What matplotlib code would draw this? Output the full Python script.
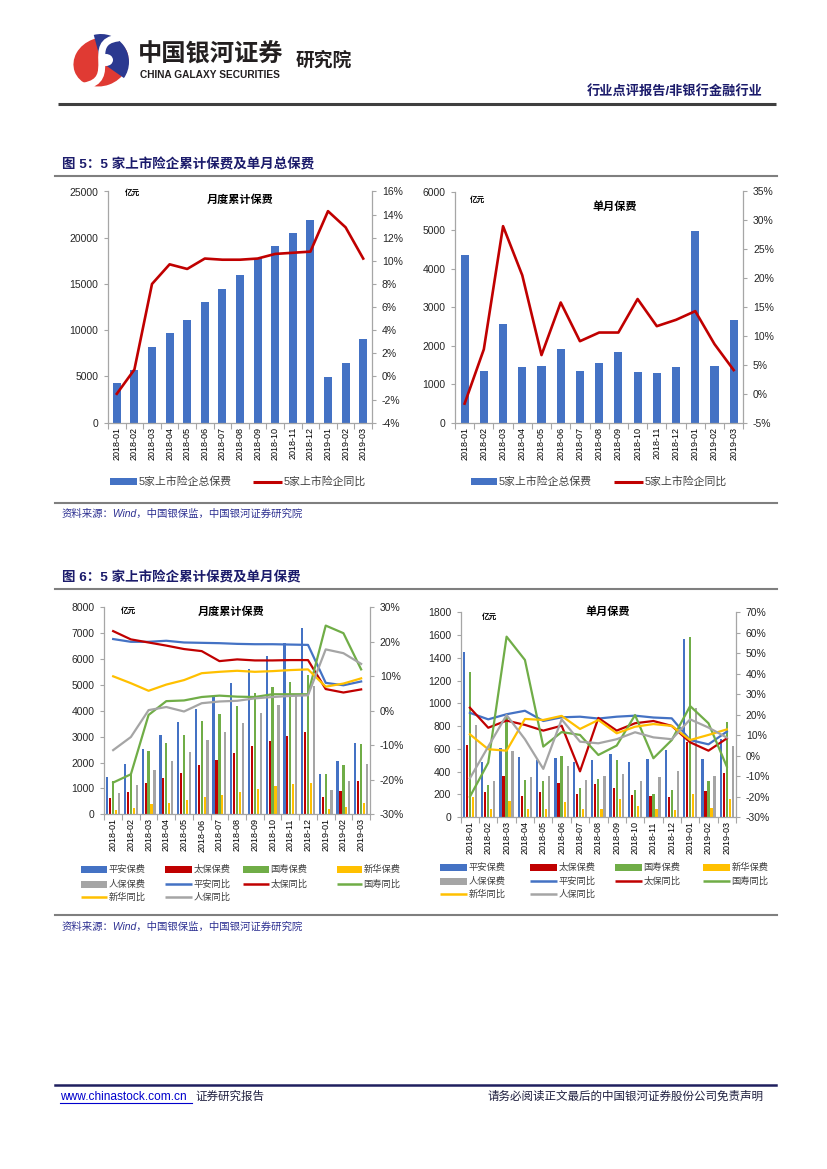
import matplotlib
matplotlib.use('Agg')
import matplotlib.pyplot as plt
import numpy as np
from matplotlib.patches import Rectangle, Wedge, Ellipse, PathPatch
from matplotlib.path import Path
from matplotlib.ticker import FuncFormatter

plt.rcParams['font.family'] = ['Liberation Sans', 'Noto Sans CJK SC', 'DejaVu Sans']

# ---------------- data ----------------
months = ['2018-01', '2018-02', '2018-03', '2018-04', '2018-05', '2018-06', '2018-07', '2018-08',
          '2018-09', '2018-10', '2018-11', '2018-12', '2019-01', '2019-02', '2019-03']

# Fig 5 left: cumulative total premiums (亿元) and yoy (%)
cum_total = [4260, 5660, 8220, 9670, 11110, 13060, 14430, 15980, 17780, 19120, 20490, 21900, 4910, 6420, 9060]
cum_total_yoy = [-1.5, 0.6, 8.0, 9.7, 9.3, 10.2, 10.1, 10.1, 10.2, 10.6, 10.7, 10.8, 14.3, 12.9, 10.2]

# Fig 5 right: single-month total premiums and yoy
mon_total = [4340, 1350, 2560, 1450, 1460, 1910, 1330, 1550, 1830, 1320, 1290, 1450, 4970, 1460, 2670]
mon_total_yoy = [-1.7, 7.7, 29.0, 20.5, 6.7, 15.8, 9.1, 10.6, 10.6, 16.4, 11.7, 12.8, 14.3, 8.6, 4.1]

companies = ['平安', '太保', '国寿', '新华', '人保']
colors = ['#4472C4', '#C00000', '#70AD47', '#FFC000', '#A5A5A5']

# Fig 6 left: cumulative premiums by company
cum_pa = [1450, 1930, 2525, 3050, 3560, 4070, 4575, 5065, 5620, 6110, 6620, 7200, 1560, 2060, 2745]
cum_tb = [630, 860, 1200, 1390, 1600, 1900, 2100, 2385, 2630, 2820, 3030, 3180, 660, 890, 1275]
cum_gs = [1270, 1550, 2430, 2760, 3070, 3610, 3860, 4200, 4690, 4920, 5130, 5370, 1570, 1890, 2720]
cum_xh = [170, 250, 380, 450, 540, 660, 740, 850, 980, 1080, 1160, 1220, 190, 270, 440]
cum_rb = [810, 1120, 1700, 2050, 2410, 2860, 3170, 3520, 3900, 4220, 4610, 4960, 940, 1290, 1940]
cum_pa_yoy = [20.8, 20.0, 20.0, 20.3, 19.8, 19.7, 19.6, 19.4, 19.3, 19.3, 19.2, 19.1, 8.1, 7.4, 8.5]
cum_tb_yoy = [23.1, 20.7, 19.8, 18.9, 17.9, 17.3, 14.4, 14.9, 14.6, 14.6, 14.7, 14.7, 6.3, 5.3, 6.2]
cum_gs_yoy = [-20.8, -18.4, -1.2, 2.8, 3.0, 4.0, 4.4, 4.1, 4.0, 4.8, 4.8, 4.8, 24.7, 22.5, 12.0]
cum_xh_yoy = [10.0, 8.0, 5.8, 7.6, 8.9, 10.9, 11.3, 11.6, 11.3, 11.5, 11.8, 12.0, 7.0, 7.9, 9.4]
cum_rb_yoy = [-11.4, -7.6, 0.2, 1.1, -0.2, 2.2, 2.7, 2.9, 3.6, 4.0, 4.3, 4.5, 17.8, 16.7, 13.6]

# Fig 6 right: single-month premiums by company
mon_pa = [1450, 481, 604, 531, 499, 519, 487, 499, 554, 487, 507, 589, 1569, 507, 685]
mon_tb = [633, 220, 358, 185, 220, 302, 199, 287, 252, 196, 185, 173, 663, 229, 387]
mon_gs = [1273, 279, 880, 325, 314, 534, 252, 337, 498, 238, 205, 240, 1581, 317, 833]
mon_xh = [179, 67, 141, 73, 73, 132, 70, 73, 155, 94, 70, 62, 199, 76, 155]
mon_rb = [809, 317, 578, 349, 361, 452, 325, 361, 381, 314, 349, 402, 956, 358, 628]
mon_pa_yoy = [20.9, 17.7, 20.2, 21.9, 16.9, 18.7, 19.0, 18.1, 19.0, 19.5, 18.6, 18.2, 7.6, 5.5, 11.7]
mon_tb_yoy = [23.4, 13.6, 17.1, 15.0, 12.2, 14.6, -7.7, 18.4, 12.2, 15.8, 16.9, 14.5, 6.5, 2.4, 8.4]
mon_gs_yoy = [-20.1, -3.5, 58.1, 46.7, 4.4, 11.5, 10.1, 0.3, 4.9, 19.8, -1.3, 7.6, 24.2, 15.8, -5.4]
mon_xh_yoy = [10.4, 3.1, 2.4, 17.9, 17.4, 19.4, 13.0, 17.4, 10.9, 14.1, 15.4, 14.5, 7.6, 10.1, 12.8]
mon_rb_yoy = [-11.1, 4.4, 19.8, 8.0, -6.5, 17.7, 6.8, 6.0, 8.0, 11.4, 8.9, 8.0, 17.7, 13.7, 8.8]

# ---------------- figure ----------------
W, H = 827, 1169
fig = plt.figure(figsize=(W / 100, H / 100), dpi=100)
fig.patch.set_facecolor('white')

bg = fig.add_axes([0, 0, 1, 1])
bg.set_xlim(0, W)
bg.set_ylim(H, 0)
bg.axis('off')

NAVY = '#1B1B6B'
GRID = '#A6A6A6'


def px_axes(x0, y0, x1, y1):
    return fig.add_axes([x0 / W, 1 - y1 / H, (x1 - x0) / W, (y1 - y0) / H])


# ---------- header (logo) ----------
bg.add_patch(Ellipse((101, 62), 56, 48, angle=-20, color='#E03A33', lw=0))
bg.add_patch(Wedge((101, 62), 28, 255, 395, color='#2B3990', lw=0))
s_curve = Path([(118, 38), (84, 42), (120, 80), (84, 86)],
               [Path.MOVETO, Path.CURVE4, Path.CURVE4, Path.CURVE4])
bg.add_patch(PathPatch(s_curve, fill=False, edgecolor='white', lw=5, capstyle='round'))
bg.add_patch(Ellipse((106, 60), 14, 12, color='white', lw=0))

bg.text(138, 55, '中国银河证券', fontsize=17.5, fontweight='bold', color='#231F20', va='center', ha='left')
bg.text(140, 75.5, 'CHINA GALAXY SECURITIES', fontsize=7.3, fontweight='bold', color='#231F20',
        va='center', ha='left')
bg.text(296, 61, '研究院', fontsize=13.5, fontweight='bold', color='#231F20', va='center', ha='left')
bg.text(763, 91, '行业点评报告/非银行金融行业', fontsize=9.5, fontweight='bold', color=NAVY,
        va='center', ha='right')
bg.plot([58, 776], [104, 104], color='#3F3F3F', lw=2.2, solid_capstyle='butt')

# ---------- section titles / rules ----------
bg.text(62, 165, '图 5：5 家上市险企累计保费及单月总保费', fontsize=9.7, fontweight='bold', color=NAVY,
        va='center', ha='left')
bg.plot([55, 777], [176, 176], color='#7F7F7F', lw=1.5)
bg.plot([55, 777], [503, 503], color='#7F7F7F', lw=1.5)
bg.text(62, 514, '资料来源：Wind，中国银保监，中国银河证券研究院', fontsize=7.5, color='#2E3192',
        va='center', ha='left', style='italic')

bg.text(62, 578, '图 6：5 家上市险企累计保费及单月保费', fontsize=9.7, fontweight='bold', color=NAVY,
        va='center', ha='left')
bg.plot([55, 777], [589, 589], color='#7F7F7F', lw=1.5)
bg.plot([55, 777], [915, 915], color='#7F7F7F', lw=1.5)
bg.text(62, 927, '资料来源：Wind，中国银保监，中国银河证券研究院', fontsize=7.5, color='#2E3192',
        va='center', ha='left', style='italic')

# ---------- footer ----------
bg.plot([55, 776], [1085, 1085], color='#1F1F5F', lw=1.8)
bg.text(60, 1097, 'www.chinastock.com.cn', fontsize=8.6, color='#0000CC', va='center', ha='left')
bg.plot([60, 192], [1103, 1103], color='#0000CC', lw=0.8)
bg.text(195, 1097, '证券研究报告', fontsize=8.3, color='#1F1F3F', va='center', ha='left')
bg.text(763, 1097, '请务必阅读正文最后的中国银河证券股份公司免责声明', fontsize=8.3, color='#1F1F3F',
        va='center', ha='right')


# ---------- chart helpers ----------
def style_axes(ax, ax2, ylim, yticks, y2lim, y2ticks):
    n = len(months)
    ax.set_xlim(-0.5, n - 0.5)
    ax.set_ylim(*ylim)
    ax.set_yticks(yticks)
    ax2.set_ylim(*y2lim)
    ax2.set_yticks(y2ticks)
    ax2.yaxis.set_major_formatter(FuncFormatter(lambda v, p: f'{v:.0f}%'))
    ax.set_facecolor('none')
    for a in (ax, ax2):
        a.spines['top'].set_visible(False)
        for s in ('left', 'right', 'bottom'):
            a.spines[s].set_color(GRID)
            a.spines[s].set_linewidth(0.9)
    ax.spines['right'].set_visible(False)
    ax2.spines['left'].set_visible(False)
    ax2.spines['bottom'].set_visible(False)
    ax.set_xticks(range(n))
    ax.set_xticklabels(months, rotation=90, fontsize=6.5)
    ax.tick_params(axis='x', which='major', length=0, pad=3)
    ax.set_xticks(np.arange(-0.5, n, 1), minor=True)
    ax.tick_params(axis='x', which='minor', length=4, color=GRID, width=0.8)
    ax.tick_params(axis='y', length=3, color=GRID, width=0.8, labelsize=7.5, pad=4, labelcolor='#262626')
    ax2.tick_params(axis='y', length=3, color=GRID, width=0.8, labelsize=7.5, pad=4, labelcolor='#262626')


def legend_item(kind, x0, x1, y, text, color, size, lw=2.0):
    if kind == 'bar':
        bg.add_patch(Rectangle((x0, y - 3.5), x1 - x0, 7, color=color, lw=0))
    else:
        bg.plot([x0, x1], [y, y], color=color, lw=lw, solid_capstyle='butt')
    bg.text(x1 + 1.5, y, text, fontsize=size, color='#404040', va='center', ha='left')


x = np.arange(len(months))

# ---------- Fig 5 left ----------
ax = px_axes(108, 191.5, 372, 422.7)
ax2 = ax.twinx()
ax.bar(x, cum_total, width=0.46, color='#4472C4', zorder=2)
ax2.plot(x, cum_total_yoy, color='#C00000', lw=1.9)
style_axes(ax, ax2, (0, 25000), range(0, 25001, 5000), (-4, 16), range(-4, 17, 2))
bg.text(132.5, 193.5, '亿元', fontsize=5.5, fontweight='bold', ha='center', va='center')
bg.text(240, 200, '月度累计保费', fontsize=8, fontweight='bold', ha='center', va='center')
legend_item('bar', 110, 137, 481.5, '5家上市险企总保费', '#4472C4', 7.8)
legend_item('line', 253, 282, 481.5, '5家上市险企同比', '#C00000', 7.8, lw=2.2)

# ---------- Fig 5 right ----------
ax = px_axes(455, 191.5, 743.3, 422.7)
ax2 = ax.twinx()
ax.bar(x, mon_total, width=0.42, color='#4472C4', zorder=2)
ax2.plot(x, mon_total_yoy, color='#C00000', lw=1.9)
style_axes(ax, ax2, (0, 6000), range(0, 6001, 1000), (-5, 35), range(-5, 36, 5))
bg.text(478, 200, '亿元', fontsize=5.5, fontweight='bold', ha='center', va='center')
bg.text(615, 207, '单月保费', fontsize=8, fontweight='bold', ha='center', va='center')
legend_item('bar', 471, 497, 481.5, '5家上市险企总保费', '#4472C4', 7.8)
legend_item('line', 614, 643, 481.5, '5家上市险企同比', '#C00000', 7.8, lw=2.2)


def company_chart(box, bars, lines, ylim, yticks, y2lim, y2ticks, unit_xy, title_xy, title):
    ax = px_axes(*box)
    ax2 = ax.twinx()
    slot, bw = 0.165, 0.125
    for i, (vals, c) in enumerate(zip(bars, colors)):
        ax.bar(x + (i - 2) * slot, vals, width=bw, color=c, zorder=2)
    for vals, c in zip(lines, colors):
        ax2.plot(x, vals, color=c, lw=1.6)
    style_axes(ax, ax2, ylim, yticks, y2lim, y2ticks)
    bg.text(unit_xy[0], unit_xy[1], '亿元', fontsize=5.5, fontweight='bold', ha='center', va='center')
    bg.text(title_xy[0], title_xy[1], title, fontsize=8, fontweight='bold', ha='center', va='center')


def company_legend(cols, rows, size):
    labels = [c + '保费' for c in companies] + [c + '同比' for c in companies]
    kinds = ['bar'] * 5 + ['line'] * 5
    cl = colors + colors
    for k in range(10):
        r, cc = divmod(k, 4)
        x0, x1 = cols[cc]
        legend_item(kinds[k], x0, x1, rows[r], labels[k], cl[k], size, lw=1.8)


# ---------- Fig 6 left ----------
company_chart((104.3, 607.3, 370, 814.3),
              [cum_pa, cum_tb, cum_gs, cum_xh, cum_rb],
              [cum_pa_yoy, cum_tb_yoy, cum_gs_yoy, cum_xh_yoy, cum_rb_yoy],
              (0, 8000), range(0, 8001, 1000), (-30, 30), range(-30, 31, 10),
              (128.5, 611.5), (231, 612), '月度累计保费')
company_legend([(81, 107), (165, 192), (243, 269), (337, 362)], [869, 884, 897], 6.7)

# ---------- Fig 6 right ----------
company_chart((460.7, 612.3, 736, 817),
              [mon_pa, mon_tb, mon_gs, mon_xh, mon_rb],
              [mon_pa_yoy, mon_tb_yoy, mon_gs_yoy, mon_xh_yoy, mon_rb_yoy],
              (0, 1800), range(0, 1801, 200), (-30, 70), range(-30, 71, 10),
              (490, 617), (608, 612), '单月保费')
company_legend([(440, 467), (530, 557), (615, 642), (703, 730)], [867, 881, 894], 6.7)

fig.savefig('out.png', dpi=100)
